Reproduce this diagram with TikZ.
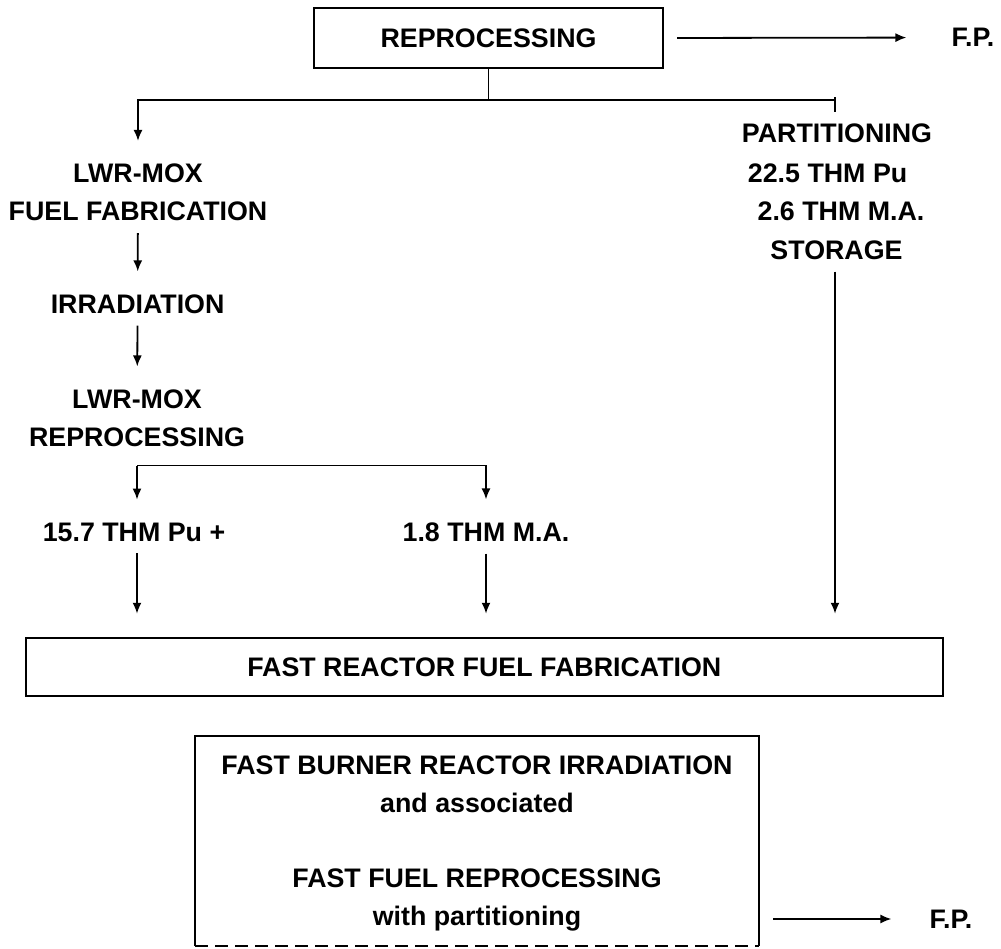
\documentclass[tikz,border=0pt]{standalone}
\usepackage{fontspec}
\setmainfont{Liberation Sans}
\usetikzlibrary{arrows.meta,positioning,calc}

\begin{document}
\begin{tikzpicture}[
  x=1pt, y=-1pt,
  font=\fontsize{26.8}{38}\selectfont\bfseries,
  lbl/.style={inner sep=0pt, align=center, text depth=0pt},
  box/.style={draw, line width=2pt, inner sep=0pt, align=center, text depth=0pt},
  link/.style={line width=1.8pt},
  arrow/.style={-{Latex[length=11pt,width=9pt]}, line width=1.8pt, shorten <=12pt, shorten >=23pt}
]
  \useasboundingbox (0,0) rectangle (1001,948);

  % top reprocessing
  \node[box, minimum width=349pt, minimum height=59.5pt] (repro) at (488.5,38) {REPROCESSING};
  \node[lbl] (fptop) at (973,37.5) {F.P.};

  % LWR-MOX route
  \node[lbl] (lwrfab) at (138,192.5) {LWR-MOX\\FUEL FABRICATION};
  \node[lbl] (irrad) at (137.6,304) {IRRADIATION};
  \node[lbl] (lwrrep) at (137,418) {LWR-MOX\\REPROCESSING};
  \node[lbl] (pu) at (134,532) {15.7 THM Pu +};
  \node[lbl] (ma) at (486,532) {1.8 THM M.A.};

  % partitioning route
  \node[lbl] (parttl) at (837,133) {PARTITIONING};
  \node[lbl] (pustore) at (827.6,173.5) {22.5 THM Pu};
  \node[lbl] (mastore) at (841,211.6) {2.6 THM M.A.};
  \node[lbl] (storage) at (836.5,250) {STORAGE};

  % fast reactor
  \node[box, minimum width=917.5pt, minimum height=58.5pt] (ffab) at (484.3,667) {FAST REACTOR FUEL FABRICATION};
  \node[lbl, minimum width=563.6pt, minimum height=210pt] (burner) at (477,841)
    {FAST BURNER REACTOR IRRADIATION\\and associated\\[37pt]FAST FUEL REPROCESSING\\with partitioning};
  \node[lbl] (fpbot) at (951,919) {F.P.};

  \coordinate (split) at (488.5,100);
  \coordinate (ptop) at (835,97);
  \coordinate (pbot) at (835,112);
  \coordinate (brl) at (137,465.5);

  \draw[arrow, shorten >=45pt, shorten <=13pt] (repro.east) -- (fptop.west);
  \draw[link] (repro.south) -- (split);
  \draw[arrow, shorten <=0pt] (split) -| (lwrfab.north);
  \draw[link] (split) -- (split -| ptop);
  \draw[link] (ptop) -- (pbot);
  \draw[arrow] (lwrfab) -- (irrad);
  \draw[arrow] (irrad) -- (lwrrep);
  \draw[arrow, shorten <=0pt] (brl) -| (ma.north);
  \draw[arrow, shorten <=0pt] (brl) -- (brl |- pu.north);
  \draw[arrow] (brl |- pu.south) -- (brl |- ffab.north);
  \draw[arrow] (ma.south) -- (ma.south |- ffab.north);
  \draw[arrow] (pbot |- storage.south) -- (pbot |- ffab.north);

  \draw[line width=2pt] (burner.south west) -- (burner.north west) -- (burner.north east) -- (burner.south east);
  \draw[line width=2pt, dash pattern=on 13pt off 7pt] (burner.south west) -- (burner.south east);
  \draw[arrow, shorten <=14pt, shorten >=38pt] (burner.east |- fpbot) -- (fpbot.west);
\end{tikzpicture}
\end{document}
